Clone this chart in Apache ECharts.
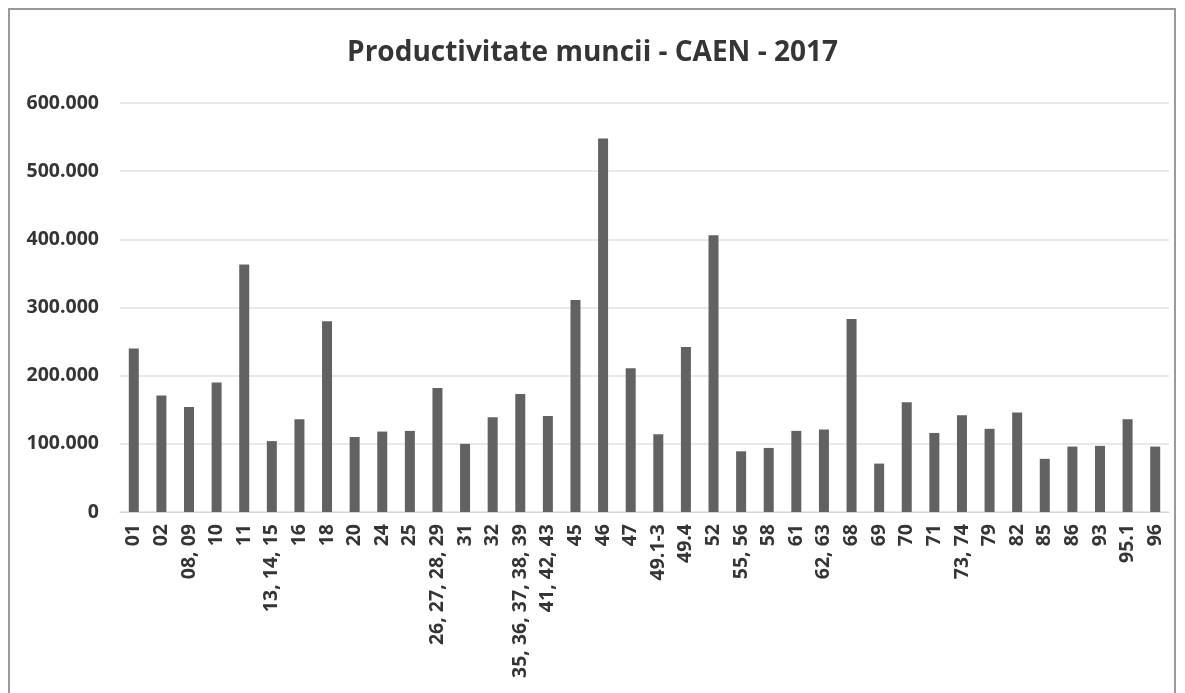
<!DOCTYPE html>
<html>
<head>
<meta charset="utf-8">
<title>Productivitate muncii - CAEN - 2017</title>
<script src="https://cdn.jsdelivr.net/npm/echarts@6/dist/echarts.min.js"></script>
<style>
  html, body { margin: 0; padding: 0; background: #fff; }
  #frame { position: absolute; left: 8px; top: 8px; width: 1168px; height: 700px; border: 2px solid #9a9a9a; border-bottom: none; box-sizing: border-box; }
  #main { position: absolute; left: 0; top: 0; width: 1185px; height: 693px; }
</style>
</head>
<body>
<div id="frame"></div>
<div id="main"></div>
<script>
// coduri CAEN
const categories = ['01', '02', '08, 09', '10', '11', '13, 14, 15', '16', '18', '20', '24', '25',
  '26, 27, 28, 29', '31', '32', '35, 36, 37, 38, 39', '41, 42, 43', '45', '46', '47', '49.1-3',
  '49.4', '52', '55, 56', '58', '61', '62, 63', '68', '69', '70', '71', '73, 74', '79', '82',
  '85', '86', '93', '95.1', '96']

// productivitate (lei / salariat)
const productivitate = [240000, 171000, 154000, 190000, 363000, 104000, 136000, 280000, 110000, 118000, 119000,
  182000, 100000, 139000, 173000, 141000, 311000, 548000, 211000, 114000,
  242000, 406000, 89000, 94000, 119000, 121000, 283000, 71000, 161000, 116000, 142000, 122000, 146000,
  78000, 96000, 97000, 136000, 96000]

const yTicks = [0, 100000, 200000, 300000, 400000, 500000, 600000]

const chart = echarts.init(document.getElementById('main'))

function fmt(v) {
  // separator de mii cu punct
  return String(v).replace(/\B(?=(\d{3})+(?!\d))/g, '.')
}

chart.setOption({
  animation: false,
  textStyle: { fontFamily: 'Open Sans' },
  title: {
    text: 'Productivitate muncii - CAEN - 2017',
    left: 'center',
    top: 34,
    textStyle: { fontSize: 28, fontWeight: 'bold', color: '#353535', fontFamily: 'Open Sans' }
  },
  grid: { left: 120, right: 16, top: 103, bottom: 181 },
  xAxis: {
    type: 'category',
    data: categories,
    axisLine: { lineStyle: { color: '#d4d4d4', width: 1 } },
    axisTick: { show: false },
    axisLabel: {
      interval: 0,
      rotate: 90,
      margin: 12,
      fontSize: 19.5,
      fontWeight: 'bold',
      color: '#353535'
    }
  },
  yAxis: {
    type: 'value',
    min: yTicks[0],
    max: yTicks[yTicks.length - 1],
    interval: yTicks[1] - yTicks[0],
    axisLine: { show: false },
    axisTick: { show: false },
    splitLine: { lineStyle: { color: '#e2e2e2', width: 1.5 } },
    axisLabel: {
      margin: 21,
      fontSize: 19.5,
      fontWeight: 'bold',
      color: '#353535',
      formatter: fmt
    }
  },
  series: [{
    name: 'Productivitate',
    type: 'bar',
    barWidth: 10,
    data: productivitate,
    itemStyle: { color: '#626262' }
  }]
})
</script>
</body>
</html>
